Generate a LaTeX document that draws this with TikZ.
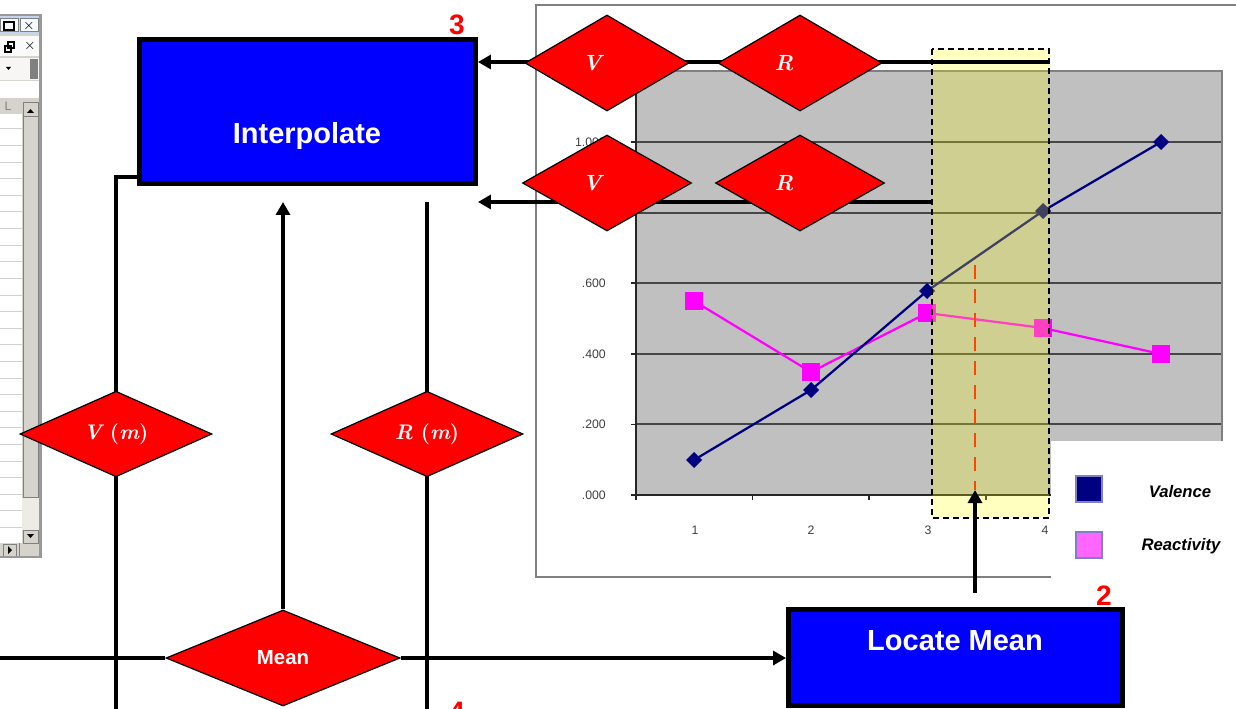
\documentclass[tikz,border=0pt]{standalone}
\usepackage{fontspec}
\setsansfont{Liberation Sans}
\usetikzlibrary{shapes.geometric,arrows.meta}
\definecolor{boxblue}{RGB}{0,0,255}
\definecolor{dred}{RGB}{255,0,0}
\definecolor{navy}{RGB}{0,0,128}
\definecolor{pinkline}{RGB}{255,0,255}
\definecolor{legpink}{RGB}{255,102,255}
\definecolor{legedge}{RGB}{128,128,200}
\definecolor{plotgray}{RGB}{192,192,192}
\definecolor{gridgray}{RGB}{70,70,70}
\definecolor{framegray}{RGB}{128,128,128}
\definecolor{hilite}{RGB}{255,255,7}
\definecolor{dashred}{RGB}{255,70,0}
\definecolor{xlface}{RGB}{214,211,204}
\definecolor{xlchk}{RGB}{236,235,230}
\definecolor{titlebar}{RGB}{196,212,240}
\tikzset{
  procbox/.style={draw=black, line width=0.1cm, fill=boxblue, inner sep=0pt},
  decision/.style={diamond, draw=black, line width=0.7pt, fill=dred, inner sep=0pt, text=white},
  boxtext/.style={text=white, font=\sffamily\bfseries\fontsize{16.5}{16.5}\selectfont},
  dtext/.style={text=white, font=\fontsize{12.5}{12.5}\selectfont\bfseries\itshape},
  stepno/.style={text=dred, anchor=base, font=\sffamily\bfseries\fontsize{16}{16}\selectfont},
  flow/.style={line width=0.08cm, -{Triangle[length=0.26cm,width=0.28cm]}},
  plain/.style={line width=0.08cm},
  axlabel/.style={text=black!75, font=\sffamily\fontsize{7}{7}\selectfont},
  legtext/.style={font=\sffamily\bfseries\itshape\fontsize{9.5}{9.5}\selectfont},
  xlbtn/.style={draw=gray, line width=0.02cm},
}
\pgfdeclarelayer{chart}
\pgfdeclarelayer{lines}
\pgfsetlayers{chart,lines,main}
\begin{document}
\begin{tikzpicture}[x=0.02cm,y=-0.02cm]
\useasboundingbox (0,0) rectangle (1236,709);
\begin{pgfonlayer}{chart}
\fill[white] (0,0) rectangle (1236,709);
% spreadsheet scrap on the left
\fill[xlface] (0,15) rectangle (40,557);
\fill[white] (0,114) rectangle (22,543);
\foreach \y in {129,145.6,...,540}
  \draw[gray!35, line width=0.02cm] (0,\y) -- (22,\y);
\fill[titlebar] (0,16) rectangle (40,34);
\draw[xlbtn, fill=white!85!titlebar] (0,19) rectangle (18,32);
\draw[line width=0.03cm] (4,22) rectangle (14,30);
\draw[xlbtn, fill=white!85!titlebar] (20,19) rectangle (38,32);
\node[font=\sffamily\bfseries\fontsize{8}{8}\selectfont] (xlclose) at (29,25.5) {$\times$};
\fill[white!96!gray] (0,36) rectangle (39,56);
\draw[line width=0.03cm] (8,42) rectangle (14,48) (5,46) rectangle (11,52);
\node[font=\sffamily\fontsize{8}{8}\selectfont] (xlclose2) at (30,45.5) {$\times$};
\fill[white!80!xlface] (0,58) rectangle (39,80);
\fill (6,67) -- (11,67) -- (8.5,70) -- cycle;
\fill[gray] (30,59) rectangle (38,79);
\fill[white] (0,81) rectangle (40,98);
\fill[xlface] (0,98) rectangle (22,114);
\node[axlabel, text=gray] (xlcol) at (8,106) {L};
% scroll bar
\fill[xlface] (22,100) rectangle (39,543);
\fill[xlchk] (22,498) rectangle (39,530);
\draw[xlbtn] (23,103) rectangle (38,117);
\fill (27,113) -- (34,113) -- (30.5,109) -- cycle;
\draw[xlbtn] (23,117) rectangle (38,497);
\draw[xlbtn] (23,530) rectangle (38,543);
\fill (27,534) -- (34,534) -- (30.5,538) -- cycle;
\draw[xlbtn] (3,544) rectangle (16,556);
\fill (8,546) -- (8,554) -- (12,550) -- cycle;
\draw[gray, line width=0.02cm] (19,543) -- (19,557);
\draw[gray!80, line width=0.05cm] (0,15) -- (40.5,15) -- (40.5,557) -- (0,557);
% chart
\draw[framegray, line width=0.04cm] (1250,5) -- (536,5) -- (536,577) -- (1250,577);
\fill[plotgray] (636,71) rectangle (1222,495);
\foreach \y in {142,212.6,283.2,353.8,424.4}
  \draw[gridgray, line width=0.04cm] (636,\y) -- (1222,\y);
\draw[framegray, line width=0.04cm] (636,71) -- (1222,71) -- (1222,495);
\draw[black!85, line width=0.04cm] (636,71) -- (636,495) -- (1222,495);
\foreach \y in {142,212.6,283.2,353.8,424.4,495}
  \draw[black!85, line width=0.03cm] (631,\y) -- (636,\y);
\foreach \x in {636,752.6,869.2,985.8,1102.4}
  \draw[black!85, line width=0.03cm] (\x,495) -- (\x,500);
\node[axlabel, anchor=east] (ylab1) at (612,142) {1.000};
\node[axlabel, anchor=east] (ylab6) at (612,283.2) {.600};
\node[axlabel, anchor=east] (ylab4) at (612,353.8) {.400};
\node[axlabel, anchor=east] (ylab2) at (612,424.4) {.200};
\node[axlabel, anchor=east] (ylab0) at (612,495) {.000};
\node[axlabel] (xlab1) at (695,530) {1};
\node[axlabel] (xlab2) at (811,530) {2};
\node[axlabel] (xlab3) at (928,530) {3};
\node[axlabel] (xlab4) at (1045,530) {4};
\draw[pinkline, line width=0.045cm] (694,301) -- (811,372) -- (927,313) -- (1043,328) -- (1161,354);
\foreach \x/\y in {694/301,811/372,927/313,1043/328,1161/354}
  \fill[pinkline] (\x,\y) +(-9,-9) rectangle +(9,9);
\draw[navy, line width=0.045cm] (694,460) -- (811,390) -- (927,291) -- (1043,211) -- (1161,142);
\foreach \x/\y in {694/460,811/390,927/291,1043/211,1161/142}
  \fill[navy] (\x,\y) +(-8,0) -- +(0,-8) -- +(8,0) -- +(0,8) -- cycle;
% legend
\fill[white] (1051,441) rectangle (1240,709);
\draw[legedge, fill=navy, line width=0.05cm] (1076,476) rectangle (1102,502);
\draw[legedge, fill=legpink, line width=0.05cm] (1076,532) rectangle (1102,558);
\node[legtext] (legval) at (1180,492) {Valence};
\node[legtext] (legreact) at (1181,546) {Reactivity};
% highlighted interval
\fill[hilite, opacity=0.25] (932,49) rectangle (1049,518);
\draw[dash pattern=on 0.12cm off 0.08cm, line width=0.03cm] (932,49) rectangle (1049,518);
\draw[dashred, line width=0.05cm, dash pattern=on 0.28cm off 0.2cm] (975,265) -- (975,490);
\end{pgfonlayer}

% boxes and decisions
\node[procbox, minimum width=6.72cm, minimum height=2.88cm] (interp) at (307.5,111.5) {};
\node[boxtext, anchor=base] (interptxt) at (307,144) {Interpolate};
\node[procbox, minimum width=6.68cm, minimum height=1.92cm] (locmean) at (955.5,657.5) {};
\node[boxtext, anchor=base] (locmeantxt) at (955,650) {Locate Mean};
\node[decision, minimum width=3.28cm, minimum height=1.92cm] (vtop) at (607,63) {};
\node[decision, minimum width=3.28cm, minimum height=1.92cm] (rtop) at (800,63) {};
\node[decision, minimum width=3.38cm, minimum height=1.92cm] (vlow) at (607,183) {};
\node[decision, minimum width=3.38cm, minimum height=1.92cm] (rlow) at (800,183) {};
\node[dtext] (vtoptxt) at (592,63) {V};
\node[dtext] (rtoptxt) at (784,63) {R};
\node[dtext] (vlowtxt) at (592,183) {V};
\node[dtext] (rlowtxt) at (784,183) {R};
\node[decision, minimum width=3.84cm, minimum height=1.6cm, font=\fontsize{12}{12}\selectfont\bfseries] (vm) at (116,434) {{\itshape V} ({\itshape m})};
\node[decision, minimum width=3.84cm, minimum height=1.6cm, font=\fontsize{12}{12}\selectfont\bfseries] (rm) at (427,434) {{\itshape R} ({\itshape m})};
\node[decision, minimum width=4.68cm, minimum height=1.92cm, font=\sffamily\bfseries\fontsize{11.6}{11.6}\selectfont] (mean) at (283,658) {Mean};
\node[stepno] (n3) at (457,35) {3};
\node[stepno] (n2) at (1104,605) {2};
\node[stepno] (n4) at (457,721) {4};

% connectors
\begin{pgfonlayer}{lines}
\coordinate (topend) at (1049,62);
\coordinate (lowend) at (932,202);
\coordinate (lbend) at (116,177);
\coordinate (mleft) at (0,658);
\coordinate (meanpt) at (975,490);
\coordinate (lmfoot) at (975,593);
\coordinate (bot) at (0,712);
\draw[flow] (topend) -- (topend -| interp.east);
\draw[flow] (lowend) -- (lowend -| interp.east);
\draw[plain] (lbend -| interp.west) -- (lbend) -- (lbend |- bot);
\draw[plain] (rm |- lowend) -- (rm |- bot);
\draw[flow] (mean.north) -- (mean |- lowend);
\draw[plain] (mleft) -- (mean.west);
\draw[flow] (mean.east) -- (locmean.west |- mean);
\draw[flow] (lmfoot) -- (meanpt);
\end{pgfonlayer}
\end{tikzpicture}
\end{document}
